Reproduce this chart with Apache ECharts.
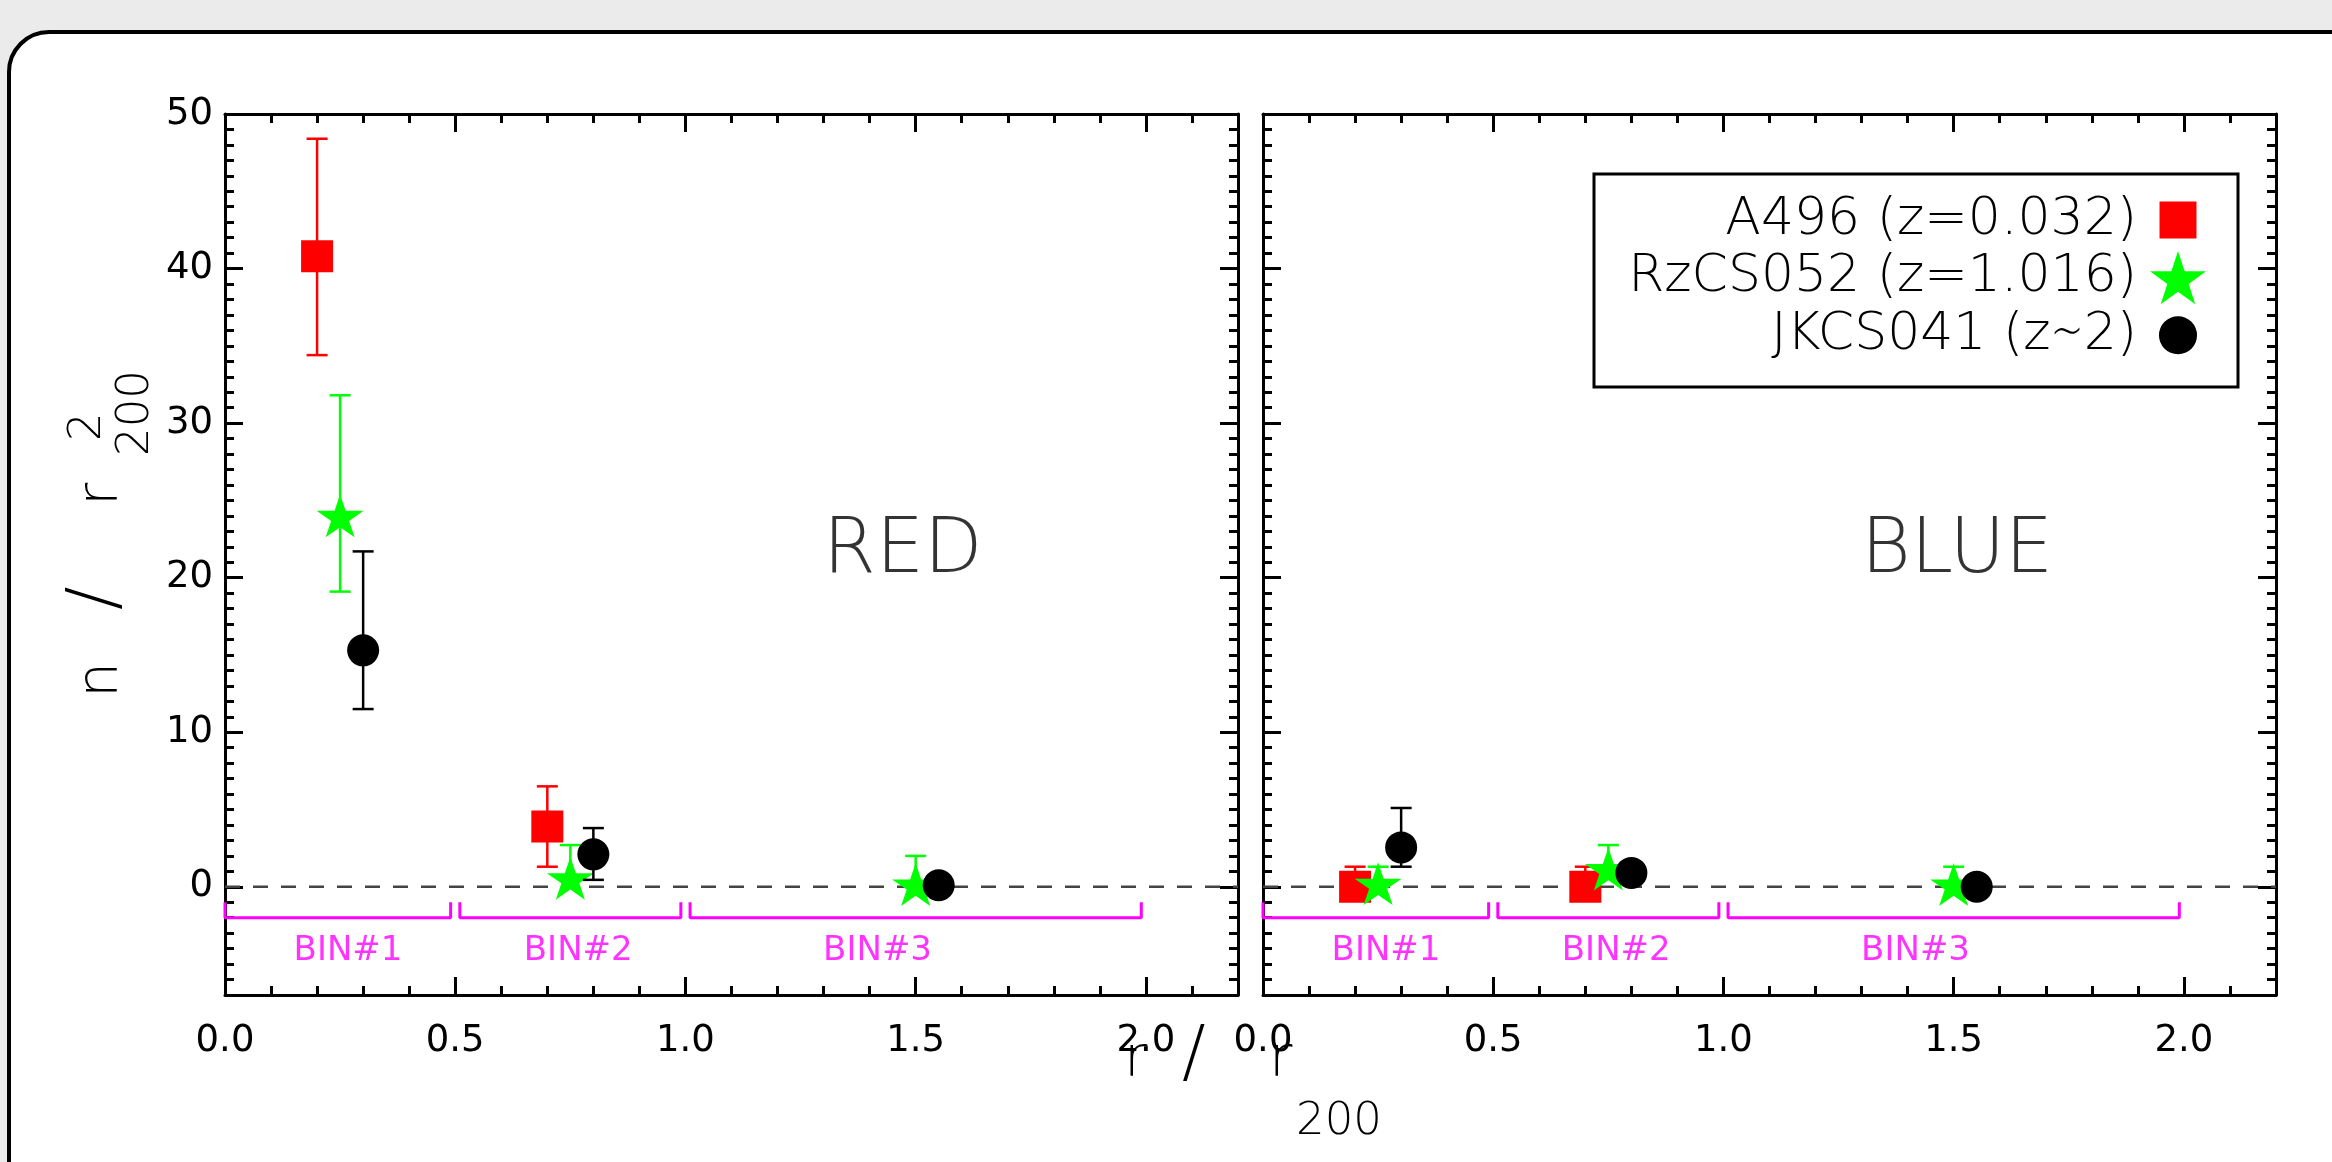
<!DOCTYPE html>
<html>
<head>
<meta charset="utf-8">
<script src="https://cdn.jsdelivr.net/npm/echarts@6/dist/echarts.min.js"></script>
<style>
html,body{margin:0;padding:0;background:#ebebeb;}
#c{width:2332px;height:1162px;}
</style>
</head>
<body>
<div id="c"></div>
<script>
// ---------------- data ----------------
const xTicks = [0, 0.5, 1.0, 1.5, 2.0];
const yTicks = [0, 10, 20, 30, 40, 50];
const panelTitles = ['RED', 'BLUE'];
const seriesNames = ['A496 (z=0.032)', 'RzCS052 (z=1.016)', 'JKCS041 (z\u223C2)'];

// RED panel
const redA496X  = [0.2, 0.7];
const redA496Y  = [40.8, 3.9];
const redA496Lo = [34.4, 1.3];
const redA496Hi = [48.4, 6.5];
const redRzX  = [0.25, 0.75, 1.5];
const redRzY  = [24.0, 0.55, 0.15];
const redRzLo = [19.1, 0.55, 0.15];
const redRzHi = [31.8, 2.7, 2.0];
const redJkX  = [0.3, 0.8, 1.55];
const redJkY  = [15.3, 2.1, 0.1];
const redJkLo = [11.5, 0.45, 0.1];
const redJkHi = [21.7, 3.8, 0.1];

// BLUE panel
const blueA496X  = [0.2, 0.7];
const blueA496Y  = [0.0, 0.0];
const blueA496Lo = [0.0, 0.0];
const blueA496Hi = [1.3, 1.3];
const blueRzX  = [0.25, 0.75, 1.5];
const blueRzY  = [0.2, 1.15, 0.15];
const blueRzLo = [0.2, 1.15, 0.15];
const blueRzHi = [1.3, 2.7, 1.3];
const blueJkX  = [0.3, 0.8, 1.55];
const blueJkY  = [2.55, 0.9, 0.0];
const blueJkLo = [1.3, 0.9, 0.0];
const blueJkHi = [5.1, 0.9, 0.0];

// radial bins
const binStart = [0.0, 0.51, 1.01];
const binEnd   = [0.49, 0.99, 1.99];
const binLineY = -2;
const binTickY = -1;
const binLabels = ['BIN#1', 'BIN#2', 'BIN#3'];
const binLabelX = [0.15, 0.65, 1.3];
const binLabelY = -4.2;
const panelTitleX = 1.3;
const panelTitleY = 21.6;
const zeroLineX = [0, 2.2];

// ---------------- styling ----------------
const FONT = '"DejaVu Sans", sans-serif';
const STAR = 'path://M50,0 L61.23,34.55 L97.55,34.55 L68.17,55.9 L79.39,90.45 L50,69.1 L20.61,90.45 L31.83,55.9 L2.45,34.55 L38.77,34.55 Z';
// legend icons share one 56x56 box; the square / circle are inset inside it
const LEG_SQUARE = 'path://M0,0 L0,0 M100,100 L100,100 M17,17 L83,17 L83,83 L17,83 Z';
const LEG_CIRCLE = 'path://M0,0 L0,0 M100,100 L100,100 M16,50 A34,34 0 1 1 84,50 A34,34 0 1 1 16,50 Z';
const markerStyles = [
  {color: '#ff0000', symbol: 'rect',   size: [32, 32], legendIcon: LEG_SQUARE},
  {color: '#00ff00', symbol: STAR,     size: [47, 45], legendIcon: STAR},
  {color: '#000000', symbol: 'circle', size: [32, 32], legendIcon: LEG_CIRCLE}
];

const panelData = [
  [
    {x: redA496X, y: redA496Y, lo: redA496Lo, hi: redA496Hi},
    {x: redRzX, y: redRzY, lo: redRzLo, hi: redRzHi},
    {x: redJkX, y: redJkY, lo: redJkLo, hi: redJkHi}
  ],
  [
    {x: blueA496X, y: blueA496Y, lo: blueA496Lo, hi: blueA496Hi},
    {x: blueRzX, y: blueRzY, lo: blueRzLo, hi: blueRzHi},
    {x: blueJkX, y: blueJkY, lo: blueJkLo, hi: blueJkHi}
  ]
];

const grids = [
  {left: 225, top: 114, width: 1013, height: 881},
  {left: 1263, top: 114, width: 1013, height: 881}
];

const tickLine = {color: '#000', width: 3};
function xAx(g, pos, labels) {
  return {
    type: 'value', gridIndex: g, position: pos, min: 0, max: 2.2, interval: 0.5,
    axisLine: {show: true, onZero: false, lineStyle: tickLine},
    axisTick: {show: true, inside: true, length: 18, lineStyle: tickLine, customValues: xTicks},
    minorTick: {show: true, splitNumber: 5, length: 9, lineStyle: tickLine},
    splitLine: {show: false}, minorSplitLine: {show: false},
    axisLabel: {
      show: labels, customValues: xTicks, margin: 28, color: '#000',
      fontFamily: FONT, fontSize: 37, fontWeight: 'normal',
      formatter: v => v.toFixed(1)
    }
  };
}
function yAx(g, pos, labels) {
  return {
    type: 'value', gridIndex: g, position: pos, min: -7, max: 50,
    axisLine: {show: true, onZero: false, lineStyle: tickLine},
    axisTick: {show: true, inside: true, length: 18, lineStyle: tickLine, customValues: yTicks},
    minorTick: {show: true, splitNumber: 10, length: 9, lineStyle: tickLine},
    splitLine: {show: false}, minorSplitLine: {show: false},
    axisLabel: {
      show: labels, customValues: yTicks, margin: 12, color: '#000',
      fontFamily: FONT, fontSize: 37, fontWeight: 'normal',
      formatter: v => (yTicks.indexOf(v) >= 0 ? String(v) : '')
    }
  };
}

const xAxis = [], yAxis = [];
grids.forEach((gr, g) => {
  xAxis.push(xAx(g, 'bottom', true));
  xAxis.push(xAx(g, 'top', false));
  yAxis.push(yAx(g, 'left', g === 0));
  yAxis.push(yAx(g, 'right', false));
});

function makeErr(color) {
  return function (params, api) {
    const x = api.value(0), lo = api.value(1), hi = api.value(2);
    if (lo === hi) return null;
    const a = api.coord([x, hi]), b = api.coord([x, lo]);
    const s = {stroke: color, lineWidth: 2.5};
    const hw = 10.5;
    return {
      type: 'group',
      children: [
        {type: 'line', shape: {x1: a[0], y1: a[1], x2: b[0], y2: b[1]}, style: s},
        {type: 'line', shape: {x1: a[0] - hw, y1: a[1], x2: a[0] + hw, y2: a[1]}, style: s},
        {type: 'line', shape: {x1: b[0] - hw, y1: b[1], x2: b[0] + hw, y2: b[1]}, style: s}
      ]
    };
  };
}

const series = [];
panelData.forEach((sets, g) => {
  const ax = {xAxisIndex: 2 * g, yAxisIndex: 2 * g};
  series.push(Object.assign({
    type: 'line', silent: true, symbol: 'none', z: 1,
    data: zeroLineX.map(x => [x, 0]),
    lineStyle: {color: '#444', width: 2.5, type: [15, 13]}
  }, ax));
  binStart.forEach((s, i) => {
    series.push(Object.assign({
      type: 'line', silent: true, symbol: 'none', z: 1,
      data: [[s, binTickY], [s, binLineY], [binEnd[i], binLineY], [binEnd[i], binTickY]],
      lineStyle: {color: '#ff00ff', width: 3}
    }, ax));
  });
  series.push(Object.assign({
    type: 'scatter', silent: true, symbolSize: 1, z: 9,
    itemStyle: {color: 'rgba(0,0,0,0)'},
    data: binLabels.map((t, i) => ({name: t, value: [binLabelX[i], binLabelY]})),
    label: {show: true, formatter: '{b}', position: [0, 0], align: 'left', verticalAlign: 'middle',
      color: '#ff00ff', fontFamily: FONT, fontSize: 34, fontWeight: 'normal'}
  }, ax));
  series.push(Object.assign({
    type: 'scatter', silent: true, symbolSize: 1, z: 9,
    itemStyle: {color: 'rgba(0,0,0,0)'},
    data: [{name: panelTitles[g], value: [panelTitleX, panelTitleY]}],
    label: {show: true, formatter: '{b}', position: [0, 0], align: 'left', verticalAlign: 'middle',
      color: '#000', fontFamily: FONT, fontSize: 76, fontWeight: 200}
  }, ax));
  sets.forEach((d, k) => {
    const st = markerStyles[k];
    series.push(Object.assign({
      type: 'custom', name: seriesNames[k] + ' error', silent: true, z: 3 + 2 * k,
      data: d.x.map((x, i) => [x, d.lo[i], d.hi[i]]),
      encode: {x: 0, y: [1, 2]},
      renderItem: makeErr(st.color)
    }, ax));
    series.push(Object.assign({
      type: 'scatter', name: seriesNames[k], silent: true, z: 4 + 2 * k,
      symbol: st.symbol, symbolSize: st.size, symbolKeepAspect: true,
      itemStyle: {color: st.color, opacity: 1},
      data: d.x.map((x, i) => [x, d.y[i]])
    }, ax));
  });
});

const legend = {
  data: seriesNames.map((n, k) => ({name: n, icon: markerStyles[k].legendIcon})),
  orient: 'vertical', align: 'right', selectedMode: false, padding: 0,
  itemWidth: 56, itemHeight: 56, itemGap: 3, symbolKeepAspect: true,
  right: 126, top: 192,
  textStyle: {color: '#000', fontFamily: FONT, fontSize: 52, fontWeight: 200, padding: [0, 8, 0, 0]}
};

const titleFont = {fontFamily: FONT, fontWeight: 200, fill: '#000'};
function t(text, x, y, size) {
  return {type: 'text', x: x, y: y, silent: true,
    style: Object.assign({text: text, fontSize: size, align: 'left', verticalAlign: 'middle'}, titleFont)};
}
const graphic = [
  {type: 'rect', z: -10, silent: true, shape: {x: 9, y: 32, width: 2400, height: 1200, r: 40},
    style: {fill: '#fff', stroke: '#000', lineWidth: 4}},
  {type: 'rect', z: 0, silent: true, shape: {x: 1594, y: 174, width: 644, height: 213},
    style: {fill: 'rgba(0,0,0,0)', stroke: '#000', lineWidth: 3}},
  // x-axis title: r / r_200
  t('r', 1124, 1061, 57),
  t('/', 1182, 1057, 70),
  t('r', 1269, 1061, 57),
  t('200', 1296, 1122, 45),
  // y-axis title: n / r_200^2 (rotated group; local x runs upward, local y to the right)
  {type: 'group', x: 122, y: 698, rotation: Math.PI / 2, silent: true,
    children: [
      t('n', 0, -20, 57),
      t('/', 88, -24, 70),
      t('r', 192, -20, 57),
      t('200', 242, 14, 45),
      t('2', 257, -34, 45)
    ]}
];

const chart = echarts.init(document.getElementById('c'), null, {renderer: 'canvas'});
chart.setOption({
  animation: false,
  backgroundColor: '#ebebeb',
  grid: grids,
  xAxis: xAxis,
  yAxis: yAxis,
  legend: legend,
  graphic: graphic,
  series: series
});
</script>
</body>
</html>
